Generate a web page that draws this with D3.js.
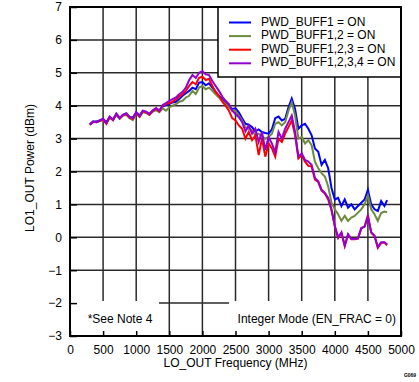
<!DOCTYPE html>
<html><head><meta charset="utf-8">
<script src="https://cdn.jsdelivr.net/npm/d3@7"></script>
<style>body{margin:0;background:#fff}svg{display:block;font-family:Arial,"Liberation Sans",sans-serif}</style>
</head><body><svg id="c" width="419" height="382"></svg>
<script>
const freqs = [300,350,400,450,500,550,600,650,700,750,800,850,900,950,1000,1050,1100,1150,1200,1250,1300,1350,1400,1450,1500,1550,1600,1650,1700,1750,1800,1850,1900,1950,2000,2050,2100,2150,2200,2250,2300,2350,2400,2450,2500,2550,2600,2650,2700,2750,2800,2850,2900,2950,3000,3050,3100,3150,3200,3250,3300,3350,3400,3450,3500,3550,3600,3650,3700,3750,3800,3850,3900,3950,4000,4050,4100,4150,4200,4250,4300,4350,4400,4450,4500,4550,4600,4650,4700,4750,4790];
const buff1 = [3.44,3.52,3.53,3.55,3.6,3.5,3.66,3.58,3.75,3.63,3.72,3.76,3.66,3.64,3.8,3.7,3.84,3.8,3.74,3.85,3.9,3.85,3.98,4.02,4.05,4.1,4.12,4.2,4.3,4.38,4.45,4.55,4.5,4.7,4.72,4.62,4.68,4.55,4.42,4.3,4.2,4.1,4.0,3.9,3.92,3.8,3.62,3.45,3.42,3.35,3.22,3.28,3.2,3.17,3.15,3.28,3.62,3.67,3.55,3.6,3.95,4.22,3.9,3.3,3.4,3.45,3.3,3.1,2.7,2.6,2.2,2.35,2.1,1.5,1.15,1.2,0.95,1.15,0.9,1.0,0.85,0.95,1.05,1.15,1.44,1.0,0.85,0.8,1.1,0.95,1.13];
const buff12 = [3.43,3.5,3.52,3.53,3.58,3.47,3.63,3.56,3.72,3.6,3.7,3.72,3.62,3.56,3.76,3.66,3.8,3.78,3.72,3.82,3.86,3.8,3.92,3.85,3.95,4.0,4.05,4.12,4.15,4.25,4.3,4.45,4.35,4.55,4.6,4.5,4.55,4.45,4.35,4.25,4.15,4.05,3.95,3.85,3.85,3.7,3.55,3.35,3.3,3.25,3.1,3.15,3.05,3.0,3.05,3.15,3.45,3.5,3.4,3.5,3.85,4.1,3.7,3.0,3.05,2.85,2.95,2.8,2.3,2.1,1.95,1.85,1.55,1.05,0.85,0.7,0.5,0.65,0.5,0.6,0.65,0.75,0.85,1.0,1.28,0.85,0.7,0.5,0.74,0.78,0.76];
const buff123 = [3.42,3.51,3.5,3.54,3.58,3.45,3.66,3.56,3.74,3.61,3.71,3.75,3.64,3.6,3.78,3.67,3.83,3.8,3.73,3.84,3.9,3.83,4.0,4.05,4.08,4.12,4.2,4.28,4.35,4.45,4.6,4.72,4.65,4.85,4.88,4.78,4.82,4.6,4.42,4.3,4.12,4.0,3.85,3.62,3.55,3.4,3.3,3.0,3.2,2.95,3.1,2.5,3.0,2.45,2.85,2.7,2.45,3.0,2.9,3.15,3.35,3.55,3.1,2.4,2.5,2.3,2.17,2.15,1.75,1.68,1.42,1.33,1.15,0.83,0.33,-0.02,0.14,-0.27,0.08,-0.06,-0.06,-0.04,0.27,0.33,0.68,0.14,0.04,-0.32,-0.17,-0.16,-0.24];
const buff1234 = [3.42,3.52,3.5,3.55,3.6,3.47,3.67,3.57,3.76,3.62,3.72,3.77,3.65,3.62,3.8,3.68,3.85,3.82,3.75,3.86,3.93,3.85,4.02,4.08,4.15,4.2,4.25,4.35,4.42,4.55,4.78,4.93,4.84,5.0,5.05,4.95,4.93,4.75,4.6,4.45,4.28,4.15,4.05,3.85,3.75,3.65,3.5,3.22,3.4,3.15,3.3,2.9,3.2,2.65,3.05,2.85,2.58,3.2,3.0,3.3,3.5,3.7,3.2,2.45,2.55,2.35,2.3,2.2,1.8,1.7,1.45,1.35,1.2,0.85,0.35,0.0,0.15,-0.25,0.1,-0.05,-0.05,-0.03,0.28,0.32,0.62,0.15,0.05,-0.3,-0.15,-0.15,-0.22];
const seriesNames = ["PWD_BUFF1 = ON","PWD_BUFF1,2 = ON","PWD_BUFF1,2,3 = ON","PWD_BUFF1,2,3,4 = ON"];
const seriesColors = ["#0000FF","#6E8B3D","#FF0000","#9400D3"];
const xTicks = [0,500,1000,1500,2000,2500,3000,3500,4000,4500,5000];
const yTicks = [-3,-2,-1,0,1,2,3,4,5,6,7];

const svg = d3.select("#c");
const L=70,R=401,T=7,B=336;
const x = d3.scaleLinear().domain([0,5000]).range([L,R]);
const y = d3.scaleLinear().domain([-3,7]).range([B,T]);
const series = [buff1,buff12,buff123,buff1234];

// grid
const g = svg.append("g");
g.selectAll("line.v").data(xTicks).join("line")
  .attr("x1",d=>x(d)).attr("x2",d=>x(d)).attr("y1",T).attr("y2",B)
  .attr("stroke","#2a2a2a").attr("stroke-width",1.5);
g.selectAll("line.h").data(yTicks).join("line")
  .attr("x1",L).attr("x2",R).attr("y1",d=>y(d)).attr("y2",d=>y(d))
  .attr("stroke","#2a2a2a").attr("stroke-width",1.5);

// note boxes (white, hide grid)
svg.append("rect").attr("x",L).attr("y",301).attr("width",159-L).attr("height",B-301).attr("fill","#fff");
svg.append("rect").attr("x",229).attr("y",301).attr("width",R-229).attr("height",B-301).attr("fill","#fff");
svg.append("text").attr("x",120).attr("y",320).attr("text-anchor","middle").attr("dominant-baseline","middle")
  .attr("font-size",12).text("*See Note 4");
svg.append("text").attr("x",396).attr("y",320).attr("text-anchor","end").attr("dominant-baseline","middle")
  .attr("font-size",12).text("Integer Mode (EN_FRAC = 0)");

// lines
const line = d3.line().x((d,i)=>x(freqs[i])).y(d=>y(d));
series.forEach((s,i)=>{
  svg.append("path").datum(s).attr("d",line).attr("fill","none")
    .attr("stroke",seriesColors[i]).attr("stroke-width",2).attr("stroke-linejoin","miter");
});

// legend
const lg = svg.append("g");
lg.append("rect").attr("x",218).attr("y",T).attr("width",R-218).attr("height",77-T)
  .attr("fill","#fff").attr("stroke","#000").attr("stroke-width",1.5);
seriesNames.forEach((n,i)=>{
  const yy = 22.5+i*13.6;
  lg.append("line").attr("x1",229).attr("x2",251).attr("y1",yy).attr("y2",yy)
    .attr("stroke",seriesColors[i]).attr("stroke-width",2);
  lg.append("text").attr("x",261).attr("y",yy).attr("dominant-baseline","middle")
    .attr("font-size",12).text(n);
});

// frame
svg.append("rect").attr("x",L).attr("y",T).attr("width",R-L).attr("height",B-T)
  .attr("fill","none").attr("stroke","#000").attr("stroke-width",2);

// axes
const xa = svg.append("g").attr("transform",`translate(0,${B})`)
  .call(d3.axisBottom(x).tickValues(xTicks).tickSize(-5).tickPadding(9).tickFormat(d3.format("d")));
const ya = svg.append("g").attr("transform",`translate(${L},0)`)
  .call(d3.axisLeft(y).tickValues(yTicks).tickSize(-7).tickPadding(8).tickFormat(d3.format("d")));
[xa,ya].forEach(a=>{
  a.select(".domain").remove();
  a.selectAll(".tick line").attr("stroke","#000").attr("stroke-width",1.5);
  a.selectAll("text").attr("font-size",12).attr("fill","#000").attr("font-family","Arial, 'Liberation Sans', sans-serif");
});

// titles
svg.append("text").attr("x",(L+R)/2).attr("y",367).attr("text-anchor","middle").attr("font-size",12)
  .text("LO_OUT Frequency (MHz)");
svg.append("text").attr("transform","translate(34,168) rotate(-90)").attr("text-anchor","middle").attr("font-size",12)
  .text("LO1_OUT Power (dBm)");
svg.append("text").attr("x",410).attr("y",377).attr("text-anchor","middle").attr("font-size",5).attr("font-weight","bold")
  .text("G069");
</script></body></html>
